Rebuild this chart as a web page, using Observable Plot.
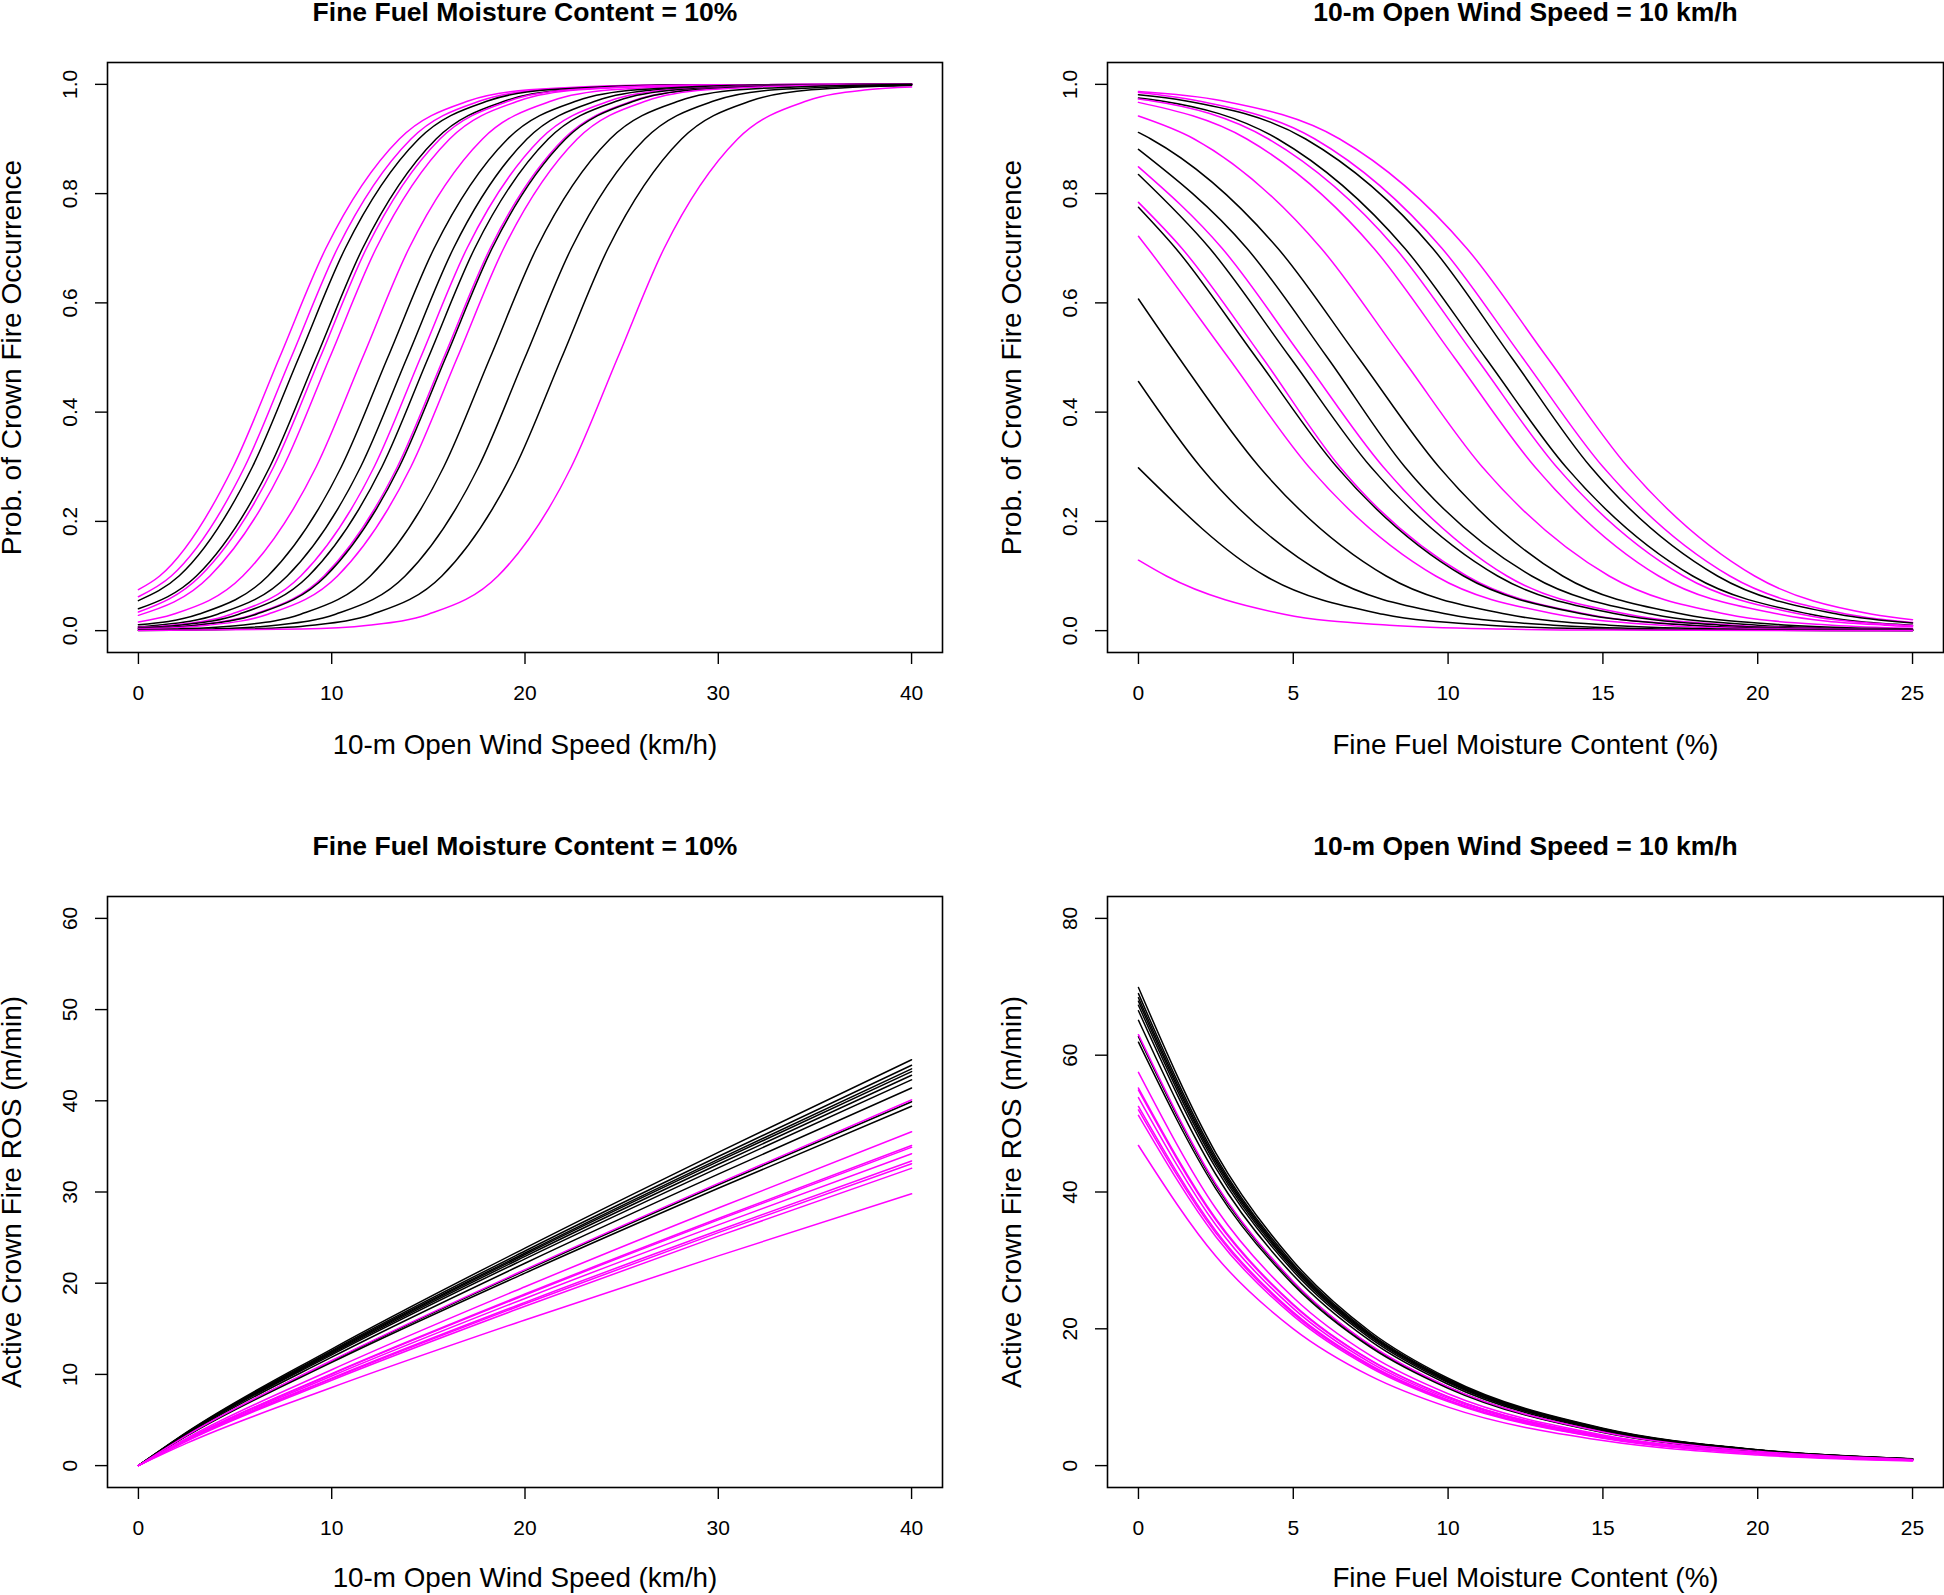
<!DOCTYPE html>
<html><head><meta charset="utf-8">
<script src="https://cdn.jsdelivr.net/npm/d3@7"></script>
<script src="https://cdn.jsdelivr.net/npm/@observablehq/plot@0.6"></script>
<style>
html,body{margin:0;padding:0;background:#fff;}
#grid{display:grid;grid-template-columns:972px 972px;grid-template-rows:797px 798px;width:1944px;height:1595px;}
#grid svg{display:block;}
</style></head><body><div id="grid"></div>
<script>
// ---------- Labels ----------
const titleFFMC = "Fine Fuel Moisture Content = 10%";
const titleWind = "10-m Open Wind Speed = 10 km/h";
const xLabelWind = "10-m Open Wind Speed (km/h)";
const xLabelFFMC = "Fine Fuel Moisture Content (%)";
const yLabelProb = "Prob. of Crown Fire Occurrence";
const yLabelROS = "Active Crown Fire ROS (m/min)";

// ---------- Tick values ----------
const windTicks = [0, 10, 20, 30, 40];
const ffmcTicks = [0, 5, 10, 15, 20, 25];
const probTicks = [0, 0.2, 0.4, 0.6, 0.8, 1.0];
const rosWindTicks = [0, 10, 20, 30, 40, 50, 60];
const rosFfmcTicks = [0, 20, 40, 60, 80];

// ---------- Panel 1: probability vs wind speed (pairs [wind km/h, prob]) ----------
const probWindClass = ["B","B","A","A","B","B","B","A","A","B","A","B","A","B","A","A","A","B"];
const probWindCurves = [
 [[0,.075],[1.1,.1],[4.9,.3],[7.3,.5],[9.7,.7],[13.5,.9],[17.1,.97],[20.2,.99],[26.8,.999],[40,1]],
 [[0,.062],[1.7,.1],[5.5,.3],[7.9,.5],[10.3,.7],[14.1,.9],[17.7,.97],[20.8,.99],[27.4,.999],[40,1]],
 [[0,.055],[2.1,.1],[5.9,.3],[8.3,.5],[10.7,.7],[14.5,.9],[18.1,.97],[21.2,.99],[27.8,.999],[40,1]],
 [[0,.040],[3.0,.1],[6.8,.3],[9.2,.5],[11.6,.7],[15.4,.9],[19.0,.97],[22.1,.99],[28.7,.999],[40,1]],
 [[0,.034],[3.2,.1],[7.0,.3],[9.4,.5],[11.8,.7],[15.6,.9],[19.2,.97],[22.3,.99],[28.9,.999],[40,1]],
 [[0,.028],[3.7,.1],[7.5,.3],[9.9,.5],[12.3,.7],[16.1,.9],[19.7,.97],[22.8,.99],[29.4,.999],[40,1]],
 [[0,.016],[1.8,.03],[5.4,.1],[9.2,.3],[11.6,.5],[14.0,.7],[17.8,.9],[21.4,.97],[24.5,.99],[31.1,.999],[40,1]],
 [[0,.011],[3.1,.03],[6.7,.1],[10.5,.3],[12.9,.5],[15.3,.7],[19.1,.9],[22.7,.97],[25.8,.99],[32.4,.999],[40,1]],
 [[0,.007],[1.0,.01],[4.1,.03],[7.7,.1],[11.5,.3],[13.9,.5],[16.3,.7],[20.1,.9],[23.7,.97],[26.8,.99],[33.4,.999],[40,1]],
 [[0,.006],[1.7,.01],[4.8,.03],[8.4,.1],[12.2,.3],[14.6,.5],[17.0,.7],[20.8,.9],[24.4,.97],[27.5,.99],[34.1,.999],[40,1]],
 [[0,.005],[2.1,.01],[5.2,.03],[8.8,.1],[12.6,.3],[15.0,.5],[17.4,.7],[21.2,.9],[24.8,.97],[27.9,.99],[34.5,.999],[40,1]],
 [[0,.004],[2.9,.01],[6.0,.03],[9.6,.1],[13.4,.3],[15.8,.5],[18.2,.7],[22.0,.9],[25.6,.97],[28.7,.99],[35.3,.999],[40,1]],
 [[0,.004],[3.0,.01],[6.1,.03],[9.7,.1],[13.5,.3],[15.9,.5],[18.3,.7],[22.1,.9],[25.7,.97],[28.8,.99],[35.4,.999],[40,1]],
 [[0,.003],[3.6,.01],[6.7,.03],[10.3,.1],[14.1,.3],[16.5,.5],[18.9,.7],[22.7,.9],[26.3,.97],[29.4,.99],[36.0,.999],[40,1]],
 [[0,.0016],[1.85,.003],[5.3,.01],[8.4,.03],[12.0,.1],[15.8,.3],[18.2,.5],[20.6,.7],[24.4,.9],[28.0,.97],[31.1,.99],[37.7,.999],[40,1]],
 [[0,.0008],[3.65,.003],[7.1,.01],[10.2,.03],[13.8,.1],[17.6,.3],[20.0,.5],[22.4,.7],[26.2,.9],[29.8,.97],[32.9,.99],[40,.999]],
 [[0,.0004],[5.55,.003],[9.0,.01],[12.1,.03],[15.7,.1],[19.5,.3],[21.9,.5],[24.3,.7],[28.1,.9],[31.7,.97],[34.8,.99],[40,.998]],
 [[0,.0002],[8.45,.003],[11.9,.01],[15.0,.03],[18.6,.1],[22.4,.3],[24.8,.5],[27.2,.7],[31.0,.9],[34.6,.97],[37.7,.99],[40,.995]]
];

// ---------- Panel 2: probability vs fine fuel moisture (pairs [FFMC %, prob]) ----------
const probFfmcClass = ["B","B","A","A","B","B","B","A","A","B","A","B","A","B","A","A","A","B"];
const probFfmcCurves = [
 [[0,.987],[2.7,.97],[6.5,.9],[10.6,.7],[13.2,.5],[15.8,.3],[19.9,.1],[23.7,.03],[25,.020]],
 [[0,.985],[1.9,.97],[5.7,.9],[9.8,.7],[12.4,.5],[15.0,.3],[19.1,.1],[22.9,.03],[25,.015]],
 [[0,.981],[1.5,.97],[5.4,.9],[9.5,.7],[12.05,.5],[14.6,.3],[18.7,.1],[22.6,.03],[25,.014]],
 [[0,.975],[0.7,.97],[4.5,.9],[8.6,.7],[11.2,.5],[13.8,.3],[17.9,.1],[21.7,.03],[25,.010]],
 [[0,.973],[0.4,.97],[4.2,.9],[8.3,.7],[10.9,.5],[13.5,.3],[17.6,.1],[21.4,.03],[24.8,.01],[25,.0094]],
 [[0,.967],[3.5,.9],[7.6,.7],[10.2,.5],[12.8,.3],[16.8,.1],[20.7,.03],[24.1,.01],[25,.0074]],
 [[0,.942],[1.8,.9],[5.9,.7],[8.5,.5],[11.1,.3],[15.2,.1],[19.0,.03],[22.4,.01],[25,.0043]],
 [[0,.912],[0.4,.9],[4.5,.7],[7.1,.5],[9.7,.3],[13.7,.1],[17.6,.03],[21.0,.01],[24.7,.003],[25,.0027]],
 [[0,.881],[3.5,.7],[6.1,.5],[8.6,.3],[12.7,.1],[16.6,.03],[20.0,.01],[23.7,.003],[25,.0019]],
 [[0,.849],[2.7,.7],[5.3,.5],[7.9,.3],[11.9,.1],[15.8,.03],[19.2,.01],[22.9,.003],[25,.0015]],
 [[0,.835],[2.3,.7],[4.9,.5],[7.5,.3],[11.6,.1],[15.5,.03],[18.8,.01],[22.5,.003],[25,.0013]],
 [[0,.784],[1.4,.7],[4.0,.5],[6.5,.3],[10.6,.1],[14.5,.03],[17.9,.01],[21.6,.003],[25,.0010]],
 [[0,.775],[1.2,.7],[3.8,.5],[6.4,.3],[10.5,.1],[14.4,.03],[17.8,.01],[21.4,.003],[25,.0010]],
 [[0,.722],[0.3,.7],[2.9,.5],[5.5,.3],[9.6,.1],[13.5,.03],[16.9,.01],[20.5,.003],[25,.0007]],
 [[0,.607],[1.3,.5],[3.9,.3],[8.0,.1],[11.9,.03],[15.2,.01],[18.9,.003],[22.3,.001],[25,.0004]],
 [[0,.456],[2.0,.3],[6.1,.1],[10.0,.03],[13.4,.01],[17.1,.003],[20.4,.001],[25,.0002]],
 [[0,.298],[4.1,.1],[7.9,.03],[11.3,.01],[15.0,.003],[18.3,.001],[25,.0001]],
 [[0,.129],[0.9,.1],[4.7,.03],[8.1,.01],[11.8,.003],[15.1,.001],[25,.0000]]
];

// ---------- Panel 3: ROS vs wind speed ----------
const rosWindX = [0, 2.5, 10, 20, 30, 40];
const rosWindClass = ["A","A","A","A","A","A","A","A","A","B","B","B","B","B","B","B","B","B"];
const rosWindValues = [
 [0, 3.67, 12.78, 23.85, 34.35, 44.5],
 [0, 3.62, 12.61, 23.53, 33.89, 43.9],
 [0, 3.59, 12.49, 23.31, 33.58, 43.5],
 [0, 3.56, 12.41, 23.15, 33.35, 43.2],
 [0, 3.53, 12.29, 22.94, 33.04, 42.8],
 [0, 3.49, 12.15, 22.67, 32.65, 42.3],
 [0, 3.42, 11.89, 22.19, 31.96, 41.4],
 [0, 3.29, 11.46, 21.38, 30.80, 39.9],
 [0, 3.25, 11.32, 21.11, 30.41, 39.4],
 [0, 3.31, 11.52, 21.49, 30.95, 40.1],
 [0, 3.02, 10.51, 19.61, 28.25, 36.6],
 [0, 2.90, 10.08, 18.81, 27.09, 35.1],
 [0, 2.88, 10.02, 18.70, 26.94, 34.9],
 [0, 2.82, 9.82, 18.33, 26.40, 34.2],
 [0, 2.76, 9.59, 17.90, 25.78, 33.4],
 [0, 2.73, 9.51, 17.74, 25.55, 33.1],
 [0, 2.69, 9.36, 17.47, 25.16, 32.6],
 [0, 2.46, 8.56, 15.97, 23.00, 29.8]
];

// ---------- Panel 4: ROS vs fine fuel moisture ----------
const rosFfmcX = [0, 2.5, 5, 7.5, 10, 15, 20, 25];
const rosFfmcClass = ["A","A","A","A","A","A","A","A","A","B","B","B","B","B","B","B","B","B"];
const rosFfmcValues = [
 [69.9, 45.70, 29.88, 19.53, 12.77, 5.46, 2.33, 1.00],
 [69.0, 45.11, 29.49, 19.28, 12.61, 5.39, 2.30, 0.98],
 [68.4, 44.72, 29.23, 19.11, 12.50, 5.34, 2.28, 0.98],
 [67.9, 44.39, 29.02, 18.97, 12.41, 5.30, 2.27, 0.97],
 [67.3, 44.00, 28.76, 18.80, 12.30, 5.26, 2.25, 0.96],
 [66.5, 43.48, 28.42, 18.58, 12.15, 5.19, 2.22, 0.95],
 [65.1, 42.56, 27.82, 18.19, 11.89, 5.08, 2.17, 0.93],
 [62.7, 40.99, 26.80, 17.52, 11.46, 4.90, 2.09, 0.89],
 [61.9, 40.47, 26.46, 17.29, 11.31, 4.83, 2.07, 0.88],
 [63.0, 41.19, 26.93, 17.60, 11.51, 4.92, 2.10, 0.90],
 [57.5, 37.59, 24.58, 16.07, 10.51, 4.49, 1.92, 0.82],
 [55.2, 36.09, 23.59, 15.42, 10.09, 4.31, 1.84, 0.79],
 [54.9, 35.89, 23.46, 15.34, 10.03, 4.29, 1.83, 0.78],
 [53.8, 35.17, 22.99, 15.03, 9.83, 4.20, 1.80, 0.77],
 [52.5, 34.32, 22.44, 14.67, 9.59, 4.10, 1.75, 0.75],
 [52.0, 34.00, 22.22, 14.53, 9.50, 4.06, 1.74, 0.74],
 [51.2, 33.47, 21.88, 14.31, 9.35, 4.00, 1.71, 0.73],
 [46.8, 30.60, 20.00, 13.08, 8.55, 3.66, 1.56, 0.67]
];

const classDomain = ["A", "B"];
const classColors = ["#000000", "#ff00ff"];

function pairsTable(curves, classes) {
  return curves.flatMap((pts, i) => pts.map(([x, y]) => ({curve: i, cls: classes[i], x, y})));
}
function gridTable(xs, values, classes) {
  return values.flatMap((vals, i) => vals.map((y, j) => ({curve: i, cls: classes[i], x: xs[j], y})));
}

function panel(o) {
  return Plot.plot({
    width: 972, height: o.height,
    marginLeft: o.ml, marginRight: o.mr, marginTop: o.mt, marginBottom: o.mb,
    style: {fontFamily: "'Liberation Sans', Arial, sans-serif", background: "#fff", color: "#000", overflow: "visible"},
    x: {domain: o.xDomain},
    y: {domain: o.yDomain},
    color: {domain: classDomain, range: classColors},
    marks: [
      Plot.line(o.rows, {x: "x", y: "y", z: "curve", stroke: "cls", strokeWidth: 1.5, curve: "monotone-x"}),
      Plot.frame({stroke: "#000", strokeWidth: 1.6}),
      Plot.axisX({ticks: o.xTicks, tickSize: 12, tickPadding: 21, fontSize: 21, label: null, strokeWidth: 1.4}),
      Plot.axisY({ticks: o.yTicks, tickSize: 12, tickPadding: 19, tickRotate: -90, lineAnchor: "bottom", textAnchor: "middle",
                  fontSize: 21, tickFormat: o.yFormat, label: null, strokeWidth: 1.4}),
      Plot.text([o.title], {text: d => d, frameAnchor: "top", lineAnchor: "middle", textAnchor: "middle", dy: -50, fontSize: 26.5, fontWeight: "bold"}),
      Plot.text([o.xLabel], {text: d => d, frameAnchor: "bottom", lineAnchor: "middle", textAnchor: "middle", dy: o.xLabelDy, fontSize: 27.8}),
      Plot.text([o.yLabel], {text: d => d, frameAnchor: "left", lineAnchor: "middle", textAnchor: "middle", dx: -95, rotate: -90, fontSize: 28})
    ]
  });
}

const grid = document.getElementById("grid");
grid.append(panel({
  rows: pairsTable(probWindCurves, probWindClass), height: 797, ml: 107, mr: 30, mt: 62, mb: 145, xLabelDy: 93,
  xDomain: [-1.6, 41.6], yDomain: [-0.04, 1.04], xTicks: windTicks, yTicks: probTicks, yFormat: d3.format(".1f"),
  title: titleFFMC, xLabel: xLabelWind, yLabel: yLabelProb
}));
grid.append(panel({
  rows: pairsTable(probFfmcCurves, probFfmcClass), height: 797, ml: 135, mr: 1, mt: 62, mb: 145, xLabelDy: 93,
  xDomain: [-1, 26], yDomain: [-0.04, 1.04], xTicks: ffmcTicks, yTicks: probTicks, yFormat: d3.format(".1f"),
  title: titleWind, xLabel: xLabelFFMC, yLabel: yLabelProb
}));
grid.append(panel({
  rows: gridTable(rosWindX, rosWindValues, rosWindClass), height: 798, ml: 107, mr: 30, mt: 99, mb: 108, xLabelDy: 91,
  xDomain: [-1.6, 41.6], yDomain: [-2.4, 62.4], xTicks: windTicks, yTicks: rosWindTicks, yFormat: d3.format("d"),
  title: titleFFMC, xLabel: xLabelWind, yLabel: yLabelROS
}));
grid.append(panel({
  rows: gridTable(rosFfmcX, rosFfmcValues, rosFfmcClass), height: 798, ml: 135, mr: 1, mt: 99, mb: 108, xLabelDy: 91,
  xDomain: [-1, 26], yDomain: [-3.2, 83.2], xTicks: ffmcTicks, yTicks: rosFfmcTicks, yFormat: d3.format("d"),
  title: titleWind, xLabel: xLabelFFMC, yLabel: yLabelROS
}));
</script>
</body></html>
